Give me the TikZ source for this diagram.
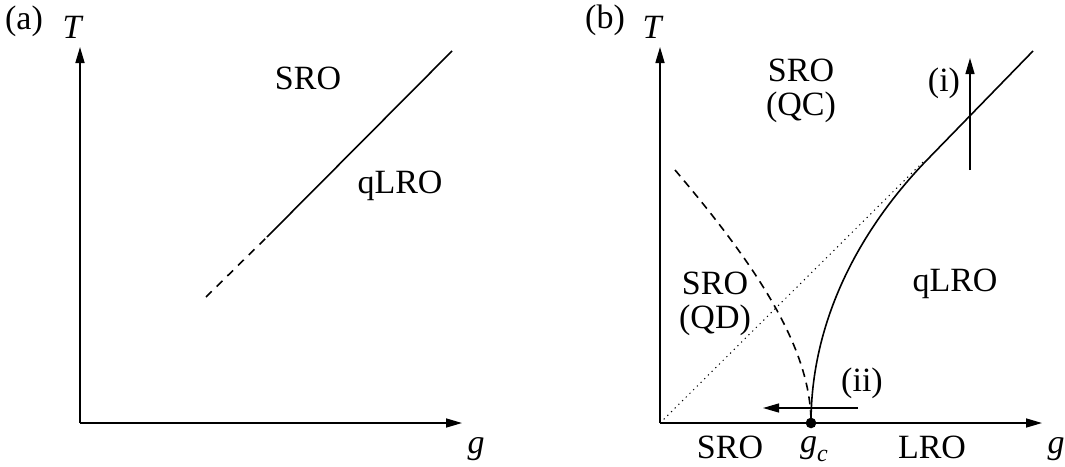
\documentclass[tikz,border=0pt]{standalone}
\usepackage{fontspec}
\setmainfont{Liberation Serif}
\usetikzlibrary{arrows.meta}
\begin{document}
\begin{tikzpicture}[x=1pt,y=-1pt,
  lbl/.style={font=\fontsize{34}{36}\selectfont, inner sep=0pt, align=center},
  axis/.style={line width=1.6pt, -{Triangle[length=16pt,width=9pt]}},
  curve/.style={line width=1.6pt},
  arr/.style={line width=1.3pt, -{Triangle[length=16pt,width=9pt]}}]
\useasboundingbox (0,0) rectangle (1065,466);
% panel (a)
\coordinate (oa) at (80,423);
\coordinate (ya) at (80,47);
\coordinate (xa) at (462,423);
\draw[axis] (oa) -- (ya);
\draw[axis] (oa) -- (xa);
\node[lbl] (la) at (24,21) {(a)};
\node[lbl] (Ta) at (73,27) {\textit{T}};
\node[lbl] (ga) at (476,449) {\textit{g}};
\coordinate (da) at (206,297);
\coordinate (ma) at (267,237);
\coordinate (ea) at (452,51);
\draw[curve, dash pattern=on 8pt off 7pt] (da) -- (ma);
\draw[curve] (ma) -- (ea);
\node[lbl] (sroa) at (308,78) {SRO};
\node[lbl] (qlroa) at (400,186) {qLRO};
% panel (b)
\coordinate (ob) at (660,423);
\coordinate (yb) at (660,47);
\coordinate (xb) at (1042,423);
\draw[axis] (ob) -- (yb);
\draw[axis] (ob) -- (xb);
\node[lbl] (lb) at (605,20) {(b)};
\node[lbl] (Tb) at (653,27) {\textit{T}};
\node[lbl] (gb) at (1056,449) {\textit{g}};
\coordinate (gc) at (811,423);
\coordinate (cm) at (925,162);
\coordinate (ce) at (1033,51);
\coordinate (ds) at (675,170);
\coordinate (dt) at (925,160);
\draw[line width=1pt, dash pattern=on 1.2pt off 4pt] (ob) -- (dt);
\draw[curve, dash pattern=on 8pt off 6pt] (ds) .. controls (760,270) and (811,350) .. (gc);
\draw[curve] (gc) .. controls (811,320) and (860,230) .. (cm) -- (ce);
\fill (gc) circle (5.3pt);
% arrows (i), (ii)
\coordinate (ia) at (970,170);
\coordinate (ib) at (970,58);
\draw[arr] (ia) -- (ib);
\node[lbl] (li) at (944,83) {(i)};
\coordinate (iia) at (858,408);
\coordinate (iib) at (763,408);
\draw[arr] (iia) -- (iib);
\node[lbl] (lii) at (862,383) {(ii)};
\node[lbl] (sroqc) at (801,91) {SRO\\[-2pt](QC)};
\node[lbl] (sroqd) at (715,304) {SRO\\[-2pt](QD)};
\node[lbl] (qlrob) at (955,284) {qLRO};
\node[lbl] (srob) at (730,447) {SRO};
\node[lbl] (gcl) at (814,449) {\textit{g}\raisebox{-0.28em}{\fontsize{24}{24}\selectfont\textit{c}}};
\node[lbl] (lrob) at (932,447) {LRO};
\end{tikzpicture}
\end{document}
